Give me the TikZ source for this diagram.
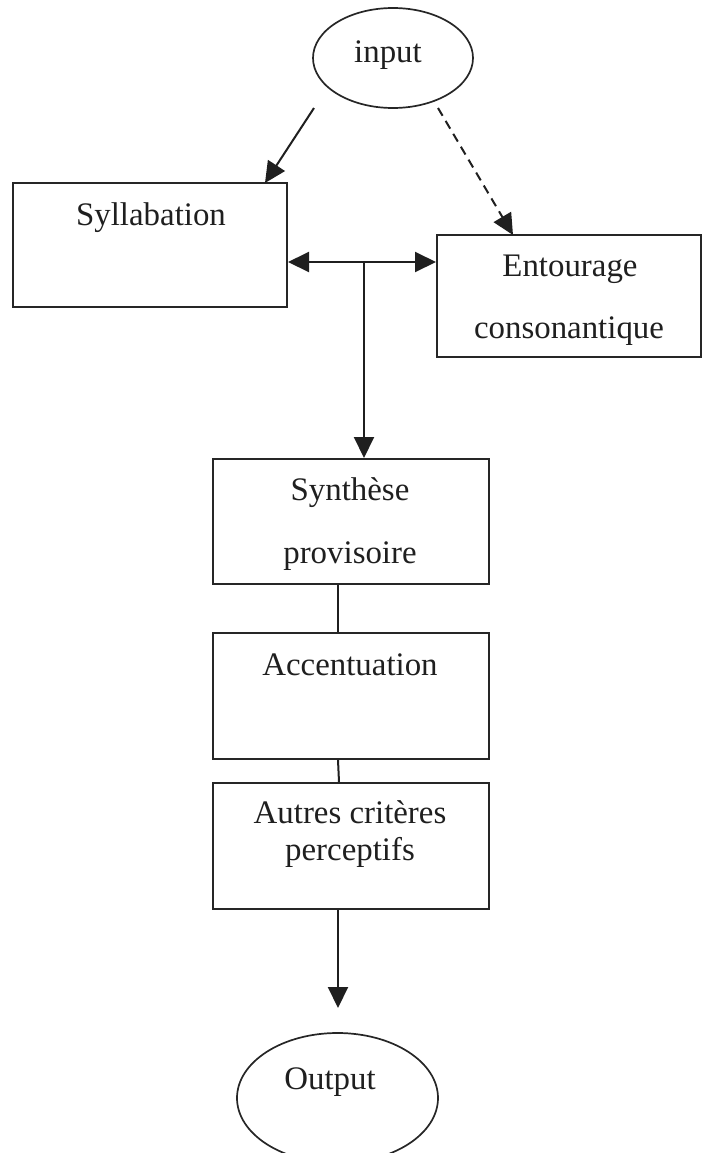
\documentclass[tikz,border=0pt]{standalone}
\usepackage{fontspec}
\setmainfont{Liberation Serif}
\usetikzlibrary{arrows.meta,shapes.geometric}
\tikzset{
  boxnode/.style={draw, line width=2bp, rectangle, inner sep=0pt, draw=black!85},
  ovalnode/.style={draw, line width=1.7bp, ellipse, inner sep=0pt, draw=black!85},
  txt/.style={anchor=base, inner sep=0pt, font=\fontsize{33}{38}\selectfont, text=black!88},
  conn/.style={line width=2bp, draw=black!88},
  tip/.style={-{Triangle[length=21bp,width=20bp]}},
}
\begin{document}
\begin{tikzpicture}[x=1bp,y=-1bp]
\useasboundingbox (0,0) rectangle (702,1153);
\clip (0,0) rectangle (702,1153);
% shapes
\node[ovalnode, minimum width=160bp, minimum height=100bp] (in) at (393,58) {};
\node[boxnode, minimum width=274bp, minimum height=124bp] (syl) at (150,245) {};
\node[boxnode, minimum width=264bp, minimum height=122bp] (ent) at (569,296) {};
\node[boxnode, minimum width=276bp, minimum height=125bp] (syn) at (351,521.5) {};
\node[boxnode, minimum width=276bp, minimum height=126bp] (acc) at (351,696) {};
\node[boxnode, minimum width=276bp, minimum height=126bp] (aut) at (351,846) {};
\node[ovalnode, minimum width=201bp, minimum height=130bp] (out) at (337.5,1098) {};
% texts
\node[txt] (tin) at (388,62) {input};
\node[txt] (tsyl) at (151,225) {Syllabation};
\node[txt] (tent1) at (570,276) {Entourage};
\node[txt] (tent2) at (569,338) {consonantique};
\node[txt] (tsyn1) at (350,500) {Synthèse};
\node[txt] (tsyn2) at (350,563) {provisoire};
\node[txt] (tacc) at (350,675) {Accentuation};
\node[txt] (taut1) at (350,823) {Autres critères};
\node[txt] (taut2) at (350,860) {perceptifs};
\node[txt] (tout) at (330,1089) {Output};
% connectors
\coordinate (insw) at (314,108);
\coordinate (inse) at (438,108);
\coordinate (sylin) at (265,183);
\coordinate (entin) at (513,235);
\coordinate (jn) at (364,262);
\draw[conn, tip] (insw) -- (sylin);
\draw[conn, tip, dash pattern=on 9bp off 6bp] (inse) -- (entin);
\draw[conn, {Triangle[length=21bp,width=20bp]}-{Triangle[length=21bp,width=20bp]}] (syl.east |- jn) -- (ent.west |- jn);
\draw[conn, tip] (jn) -- (jn |- syn.north);
\draw[conn] (syn.south -| 338,0) -- (acc.north -| 338,0);
\draw[conn] (acc.south -| 338,0) -- (aut.north -| 339,0);
\draw[conn, tip] (aut.south -| 338,0) -- (338,1008);
\end{tikzpicture}
\end{document}
